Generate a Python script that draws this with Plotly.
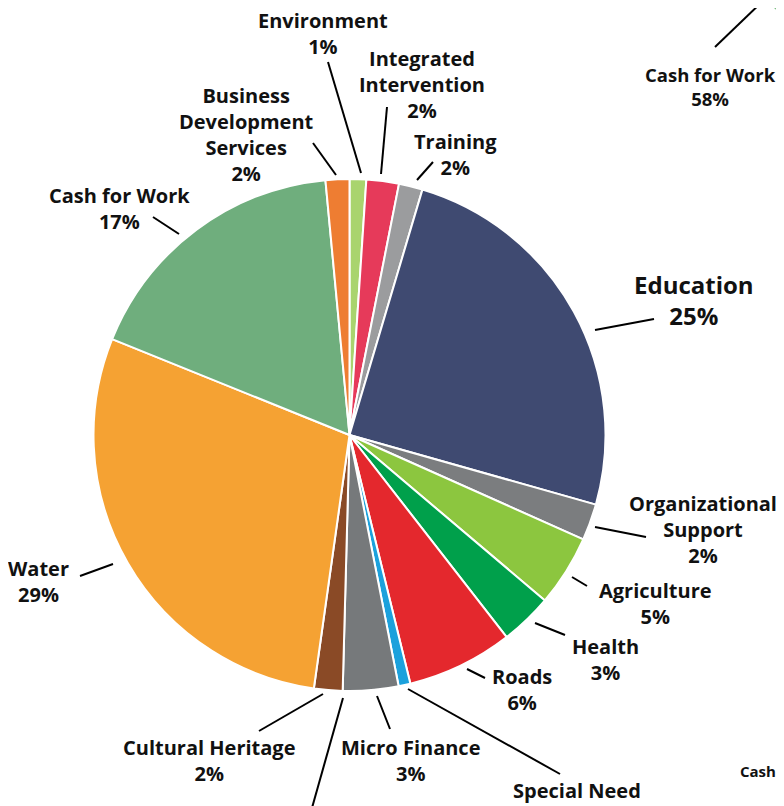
import plotly.graph_objects as go

# The page body has an 8px margin, so the figure is placed at (8, 8)
OFF = 8
W, H = 784 - OFF, 806 - OFF

# ---- data (clockwise from 12 o'clock) ----
categories = ["Environment", "Integrated Intervention", "Training", "Education",
              "Organizational Support", "Agriculture", "Health", "Roads",
              "Special Need", "Micro Finance", "Cultural Heritage", "Water",
              "Cash for Work", "Business Development Services"]
values = [1.05, 2.05, 1.5, 24.8, 2.3, 4.5, 3.3, 6.7, 0.75, 3.5, 1.8, 28.9, 17.4, 1.5]
pct_labels = ["1%", "2%", "2%", "25%", "2%", "5%", "3%", "6%", "1%", "3%", "2%",
              "29%", "17%", "2%"]
label_lines = [["Environment"], ["Integrated", "Intervention"], ["Training"], ["Education"],
               ["Organizational", "Support"], ["Agriculture"], ["Health"], ["Roads"],
               ["Special Need"], ["Micro Finance"], ["Cultural Heritage"], ["Water"],
               ["Cash for Work"], ["Business", "Development", "Services"]]
colors = ["#a9d46e", "#e63a5a", "#9b9c9e", "#3f4a71", "#7b7d7f", "#8cc63f",
          "#00a04b", "#e4282d", "#1ca1dc", "#76797b", "#8a4a26", "#f5a233",
          "#6fae7d", "#ee7d32"]

# neighbouring chart fragments (cut by the picture edge)
side_label = "Cash for Work"
side_pct = "58%"
corner_label = "Cash"


def px(x):
    return (x - OFF) / W


def py(y):
    return 1 - (y - OFF) / H


cx, cy, r = 349.5, 435, 256

fig = go.Figure(go.Pie(
    labels=categories, values=values, sort=False, direction="clockwise",
    rotation=0, textinfo="none", hoverinfo="label+percent",
    marker=dict(colors=colors, line=dict(color="white", width=2)),
    domain=dict(x=[px(cx - r), px(cx + r)], y=[py(cy + r), py(cy - r)]),
    showlegend=False,
))

# label layout: block centre (x, y px), font size, show percentage line
label_pos = [(323, 33.5, 20, True), (422, 85, 20, True), (456, 154.5, 20, True),
             (694, 299.5, 24, True), (703, 529, 20, True), (655, 603.5, 20, True),
             (605, 659.5, 20, True), (522, 689.5, 20, True), (577, 790, 20, False),
             (410, 760, 20, True), (209, 760, 20, True), (38, 581.5, 20, True),
             (120, 208.5, 20, True), (246, 134.5, 20, True)]
leaders = [((361, 173), (328, 62)), ((381, 174), (387, 107)), ((417, 180), (433, 162)),
           ((595, 330), (654, 319)), ((595, 527), (646, 537)), ((572, 577), (587, 586)),
           ((535, 623), (565, 635)), ((467, 669), (485, 678)), ((408, 689), (560, 774)),
           ((377, 696), (390, 729)), ((323, 694), (259, 731)), ((113, 564), (80, 576)),
           ((179, 234), (153, 217)), ((336, 175), (313, 143))]

FONT = "Open Sans"
annotations = []
shapes = []
for lines, pct, (tx, ty, fs, show_pct) in zip(label_lines, pct_labels, label_pos):
    rows = lines + ([pct] if show_pct else [])
    annotations.append(dict(
        x=px(tx), y=py(ty), xref="paper", yref="paper", showarrow=False,
        text="<br>".join(rows), align="center", xanchor="center", yanchor="middle",
        borderpad=0,
        font=dict(family=FONT, size=fs, color="#111111", weight=700)))
for (x0, y0), (x1, y1) in leaders:
    shapes.append(dict(type="line", xref="paper", yref="paper",
                       x0=px(x0), y0=py(y0), x1=px(x1), y1=py(y1),
                       line=dict(color="black", width=2)))

# extra leader going off the bottom edge
shapes.append(dict(type="line", xref="paper", yref="paper",
                   x0=px(343), y0=py(698), x1=px(310), y1=py(815),
                   line=dict(color="black", width=2)))

# fragment of the neighbouring chart
shapes.append(dict(type="path", xref="paper", yref="paper",
                   path=f"M {px(765)},{py(0)} L {px(790)},{py(0)} L {px(790)},{py(22)} Z",
                   fillcolor="#7dbf85", line=dict(width=0)))
shapes.append(dict(type="line", xref="paper", yref="paper",
                   x0=px(715), y0=py(47), x1=px(766), y1=py(-2),
                   line=dict(color="black", width=2)))
annotations.append(dict(x=px(710), y=py(86), xref="paper", yref="paper",
                        showarrow=False, text=f"{side_label}<br>{side_pct}",
                        xanchor="center", yanchor="middle", borderpad=0,
                        font=dict(family=FONT, size=18.5, color="#111111", weight=700)))
annotations.append(dict(x=px(739), y=py(771), xref="paper", yref="paper", showarrow=False,
                        text=corner_label, xanchor="left", yanchor="middle", borderpad=0,
                        font=dict(family=FONT, size=15, color="#111111", weight=700)))

fig.update_layout(width=W, height=H, margin=dict(l=0, r=0, t=0, b=0),
                  paper_bgcolor="white", plot_bgcolor="white",
                  annotations=annotations, shapes=shapes)

fig.write_html("out.html")
